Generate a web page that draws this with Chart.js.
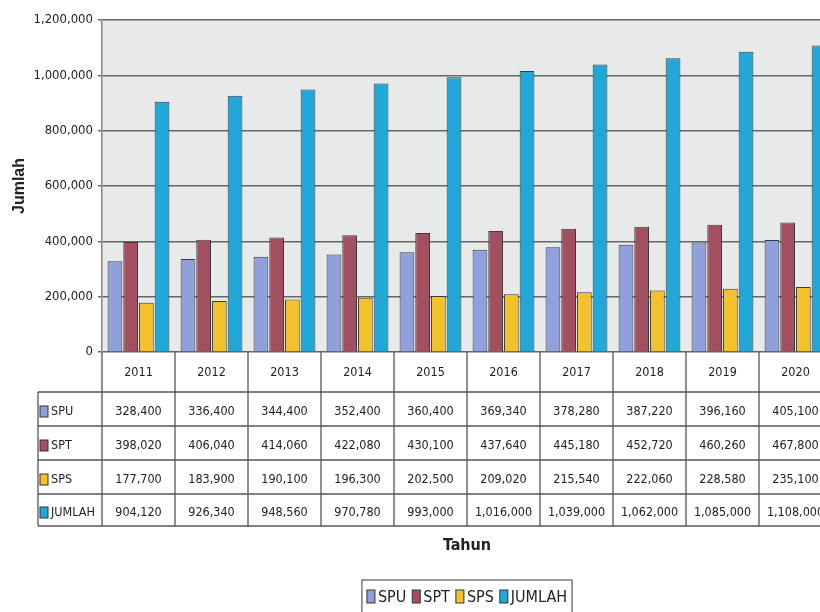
<!DOCTYPE html>
<html>
<head>
<meta charset="utf-8">
<script src="https://cdn.jsdelivr.net/npm/chart.js@4.4.1/dist/chart.umd.min.js"></script>
<style>
  html, body { margin: 0; padding: 0; background: #fff; overflow: hidden; }
  #wrap { width: 820px; height: 612px; overflow: hidden; }
</style>
</head>
<body>
<div id="wrap"><canvas id="chart" width="840" height="612"></canvas></div>
<script>
// data
const categories = ['2011', '2012', '2013', '2014', '2015', '2016', '2017', '2018', '2019', '2020'];
const seriesNames = ['SPU', 'SPT', 'SPS', 'JUMLAH'];
const spu = [328400, 336400, 344400, 352400, 360400, 369340, 378280, 387220, 396160, 405100];
const spt = [398020, 406040, 414060, 422080, 430100, 437640, 445180, 452720, 460260, 467800];
const sps = [177700, 183900, 190100, 196300, 202500, 209020, 215540, 222060, 228580, 235100];
const jumlah = [904120, 926340, 948560, 970780, 993000, 1016000, 1039000, 1062000, 1085000, 1108000];
const yMax = 1200000;
const yStep = 200000;

const colors = ['#8FA0DC', '#A2505F', '#F2C12C', '#20A8D9'];
const narrow = "'Liberation Sans Narrow', 'DejaVu Sans Condensed', sans-serif";
const fmt = v => v.toLocaleString('en-US');

// data table, key and legend under the plot
const tablePlugin = {
  id: 'dataTable',
  beforeDraw(chart) {
    const { ctx, chartArea: a } = chart;
    ctx.save();
    ctx.fillStyle = '#E8E9E9';
    ctx.fillRect(a.left, a.top, a.right - a.left, a.bottom - a.top);
    ctx.restore();
  },
  afterDraw(chart) {
    const { ctx, chartArea: a } = chart;
    const x = chart.scales.x;
    const rows = [392, 426, 460, 494, 526];
    const keyLeft = 38;
    const n = categories.length;
    const step = x.getPixelForValue(1) - x.getPixelForValue(0);

    ctx.save();
    ctx.strokeStyle = '#555';
    ctx.lineWidth = 1.3;
    // vertical separators
    for (let i = 0; i <= n; i++) {
      const px = x.getPixelForValue(i) - step / 2;
      ctx.beginPath();
      ctx.moveTo(px, a.bottom);
      ctx.lineTo(px, rows[rows.length - 1]);
      ctx.stroke();
    }
    ctx.beginPath();
    ctx.moveTo(keyLeft, rows[0]);
    ctx.lineTo(keyLeft, rows[rows.length - 1]);
    ctx.stroke();
    // horizontal lines
    rows.forEach(y => {
      ctx.beginPath();
      ctx.moveTo(keyLeft, y);
      ctx.lineTo(a.right, y);
      ctx.stroke();
    });

    ctx.fillStyle = '#222';
    ctx.textAlign = 'center';
    ctx.textBaseline = 'middle';
    ctx.font = '12.5px ' + narrow;
    categories.forEach((c, i) => ctx.fillText(c, x.getPixelForValue(i), 373));

    chart.data.datasets.forEach((ds, r) => {
      const cy = (rows[r] + rows[r + 1]) / 2 + 3;
      ctx.textAlign = 'center';
      ds.data.forEach((v, i) => ctx.fillText(fmt(v), x.getPixelForValue(i), cy));
      // key
      ctx.fillStyle = ds.backgroundColor;
      ctx.fillRect(40, cy - 6, 8, 11);
      ctx.strokeStyle = '#333';
      ctx.lineWidth = 1;
      ctx.strokeRect(40, cy - 6, 8, 11);
      ctx.fillStyle = '#222';
      ctx.textAlign = 'left';
      ctx.fillText(ds.label, 51, cy);
    });

    // axis title under the table
    ctx.textAlign = 'center';
    ctx.font = 'bold 16px ' + narrow;
    ctx.fillText('Tahun', (a.left + a.right) / 2, 546);

    // legend box
    ctx.font = '16px ' + narrow;
    const items = chart.data.datasets.map(ds => ({ label: ds.label, color: ds.backgroundColor, w: ctx.measureText(ds.label).width }));
    const sw = 8, gap = 3, sep = 6;
    let total = items.reduce((s, it) => s + sw + gap + it.w, 0) + sep * (items.length - 1);
    const bx = (a.left + a.right) / 2 - total / 2 - 5;
    ctx.strokeStyle = '#666';
    ctx.lineWidth = 1.3;
    ctx.strokeRect(bx, 580, total + 10, 34);
    let lx = bx + 5;
    const ly = 597;
    ctx.textAlign = 'left';
    items.forEach(it => {
      ctx.fillStyle = it.color;
      ctx.fillRect(lx, ly - 7, sw, 13);
      ctx.strokeStyle = '#333';
      ctx.lineWidth = 1;
      ctx.strokeRect(lx, ly - 7, sw, 13);
      ctx.fillStyle = '#222';
      ctx.fillText(it.label, lx + sw + gap, ly + 1);
      lx += sw + gap + it.w + sep;
    });
    ctx.restore();
  }
};

const seriesValues = [spu, spt, sps, jumlah];

new Chart(document.getElementById('chart'), {
  type: 'bar',
  data: {
    labels: categories,
    datasets: seriesNames.map((name, i) => ({
      label: name,
      data: seriesValues[i],
      backgroundColor: colors[i],
      borderColor: '#3c3c3c',
      borderWidth: 1,
      barPercentage: 0.94,
      categoryPercentage: 0.86
    }))
  },
  options: {
    responsive: false,
    animation: false,
    devicePixelRatio: 1,
    layout: { padding: { top: 20, right: 8, bottom: 260, left: 0 } },
    plugins: {
      legend: { display: false },
      tooltip: { enabled: false }
    },
    scales: {
      x: {
        grid: { display: false },
        border: { display: false },
        ticks: { display: false },
        afterFit(axis) { axis.height = 0; }
      },
      y: {
        min: 0,
        max: yMax,
        ticks: {
          stepSize: yStep,
          padding: 5,
          color: '#222',
          font: { family: narrow, size: 13 },
          callback: v => fmt(v)
        },
        grid: { color: '#666', lineWidth: 1.5, tickLength: 4 },
        border: { color: '#888', width: 1.5 },
        title: {
          display: true,
          text: 'Jumlah',
          color: '#222',
          font: { family: "'Liberation Sans', Arial, sans-serif", size: 16, weight: 'bold' },
          padding: { top: 10, bottom: 0 }
        },
        afterFit(axis) { axis.width = 102; }
      }
    }
  },
  plugins: [tablePlugin]
});
</script>
</body>
</html>
